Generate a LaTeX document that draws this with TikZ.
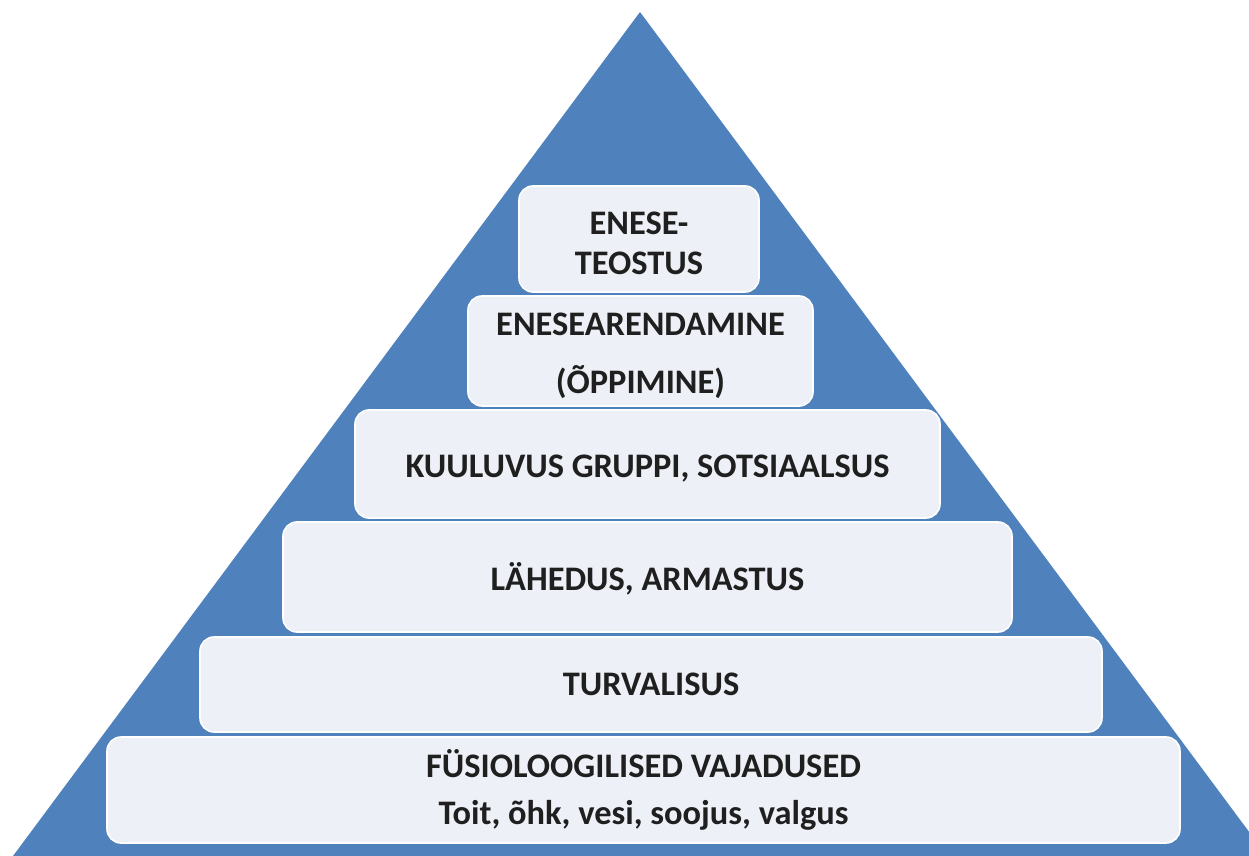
\documentclass[tikz,border=0pt]{standalone}
\usepackage{fontspec}
\setmainfont{Carlito}
\usetikzlibrary{positioning}
\definecolor{pyrblue}{RGB}{79,129,189}
\definecolor{stepfill}{RGB}{237,240,246}
% strut that pushes the label a little down in its box
\newcommand{\lowstrut}{\rule{0pt}{16pt}}
\begin{document}
\begin{tikzpicture}[
  x=0.5pt,y=-0.5pt,
  line join=round,
  level/.style={draw=white,line width=0.8pt,fill=stepfill,rounded corners=7pt,
    inner sep=0pt,align=center,text=black!88,
    font=\fontsize{17.2}{20}\selectfont\bfseries}
]
\useasboundingbox (0,0) rectangle (1249,856);
\clip (0,0) rectangle (1249,856);

% pyramid
\fill[pyrblue] (640,12) -- (1267,856) -- (13,856) -- cycle;

% levels, top to bottom
\node[level,minimum width=120pt,minimum height=53pt] (self) at (639,239)
  {\lowstrut ENESE-\\TEOSTUS};
\node[level,minimum width=172.5pt,minimum height=55pt] (learn) at (640.5,351)
  {\lowstrut ENESEARENDAMINE\\[9pt](ÕPPIMINE)};
\node[level,minimum width=292.5pt,minimum height=54pt] (group) at (647.5,464)
  {\lowstrut KUULUVUS GRUPPI, SOTSIAALSUS};
\node[level,minimum width=364.5pt,minimum height=55pt] (love) at (647.5,577)
  {\lowstrut LÄHEDUS, ARMASTUS};
\node[level,minimum width=451pt,minimum height=47.5pt] (safe) at (651,684.5)
  {TURVALISUS};
\node[level,minimum width=536.5pt,minimum height=53pt] (body) at (643.5,790)
  {FÜSIOLOOGILISED VAJADUSED\\[3.5pt]Toit, õhk, vesi, soojus, valgus};

\end{tikzpicture}
\end{document}
